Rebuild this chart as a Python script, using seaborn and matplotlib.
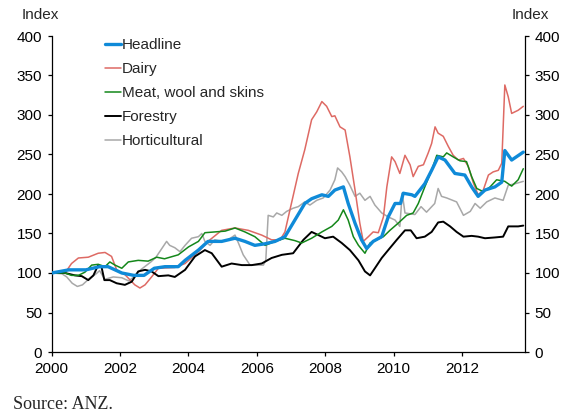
import matplotlib
matplotlib.use("Agg")
import matplotlib.pyplot as plt
import seaborn as sns
import pandas as pd

# ---------------- data ----------------
series_names = ["Headline", "Dairy", "Meat, wool and skins", "Forestry", "Horticultural"]

headline_t = [2000.0, 2000.5, 2001.0, 2001.4, 2001.65, 2002.05, 2002.4, 2002.7, 2003.0, 2003.31,
              2003.7, 2003.9, 2004.29, 2004.57, 2004.97, 2005.36, 2005.65, 2005.94, 2006.24, 2006.53,
              2006.82, 2007.11, 2007.4, 2007.6, 2007.9, 2008.09, 2008.28, 2008.53, 2008.67, 2008.87,
              2009.06, 2009.21, 2009.4, 2009.65, 2009.84, 2010.04, 2010.2, 2010.28, 2010.53, 2010.62,
              2010.91, 2011.11, 2011.3, 2011.5, 2011.79, 2012.08, 2012.28, 2012.47, 2012.67, 2012.96,
              2013.16, 2013.25, 2013.45, 2013.79]
headline_v = [100, 104, 104, 108, 108, 100, 97, 97, 106, 108,
              108, 116, 129, 140, 140, 144, 140, 135, 137, 140,
              146, 167, 188, 194, 199, 197, 205, 209, 188, 163,
              142, 131, 140, 146, 171, 188, 188, 201, 199, 197,
              213, 230, 247, 243, 226, 224, 209, 197, 205, 209,
              215, 255, 243, 253]

dairy_t = [2000.0, 2000.39, 2000.58, 2000.78, 2001.07, 2001.36, 2001.56, 2001.75, 2001.9, 2002.14,
           2002.43, 2002.58, 2002.73, 2002.92, 2003.12, 2003.6, 2003.9, 2004.29, 2004.57, 2004.97,
           2005.36, 2005.75, 2006.14, 2006.43, 2006.68, 2006.82, 2007.02, 2007.21, 2007.4, 2007.6,
           2007.75, 2007.9, 2008.04, 2008.19, 2008.28, 2008.43, 2008.58, 2008.72, 2008.87, 2009.01,
           2009.11, 2009.26, 2009.4, 2009.55, 2009.7, 2009.8, 2009.94, 2010.04, 2010.18, 2010.33,
           2010.48, 2010.57, 2010.72, 2010.87, 2011.01, 2011.11, 2011.21, 2011.3, 2011.45, 2011.6,
           2011.74, 2011.89, 2012.04, 2012.18, 2012.33, 2012.47, 2012.62, 2012.77, 2012.91, 2013.06,
           2013.16, 2013.25, 2013.35, 2013.45, 2013.64, 2013.79]
dairy_v = [100, 100, 112, 119, 120, 125, 126, 121, 104, 98,
           85, 81, 85, 95, 106, 107, 112, 127, 140, 154,
           157, 154, 148, 142, 142, 152, 190, 226, 256, 294,
           304, 317, 311, 298, 299, 285, 281, 247, 205, 163,
           140, 146, 152, 151, 171, 209, 247, 241, 226, 249,
           237, 222, 235, 237, 252, 264, 285, 277, 273, 260,
           249, 243, 245, 235, 214, 199, 205, 224, 228, 230,
           239, 338, 323, 302, 306, 311]

meat_t = [2000.0, 2000.39, 2000.58, 2000.78, 2000.97, 2001.17, 2001.36, 2001.56, 2001.7, 2001.85,
          2002.05, 2002.24, 2002.53, 2002.82, 2003.07, 2003.3, 2003.7, 2004.0, 2004.29, 2004.48,
          2004.77, 2005.07, 2005.36, 2005.65, 2005.94, 2006.24, 2006.53, 2006.82, 2007.11, 2007.31,
          2007.6, 2007.9, 2008.19, 2008.38, 2008.53, 2008.67, 2008.82, 2008.97, 2009.16, 2009.31,
          2009.5, 2009.7, 2009.89, 2010.13, 2010.38, 2010.57, 2010.72, 2010.91, 2011.11, 2011.26,
          2011.45, 2011.55, 2011.74, 2011.94, 2012.13, 2012.28, 2012.43, 2012.62, 2012.82, 2013.01,
          2013.25, 2013.45, 2013.64, 2013.79]
meat_v = [100, 100, 97, 97, 101, 110, 111, 108, 114, 110,
          106, 114, 116, 115, 120, 118, 123, 133, 140, 151,
          152, 153, 157, 152, 146, 135, 140, 144, 141, 138,
          144, 152, 159, 167, 180, 167, 146, 135, 125, 138,
          142, 146, 154, 163, 173, 176, 188, 209, 230, 249,
          247, 252, 247, 242, 241, 222, 207, 203, 209, 218,
          216, 210, 218, 232]

forestry_t = [2000.0, 2000.39, 2000.68, 2000.88, 2001.07, 2001.22, 2001.36, 2001.46, 2001.54, 2001.7,
              2001.9, 2002.14, 2002.34, 2002.53, 2002.73, 2002.92, 2003.12, 2003.41, 2003.6, 2003.9,
              2004.19, 2004.48, 2004.68, 2004.97, 2005.26, 2005.56, 2005.85, 2006.14, 2006.43, 2006.73,
              2007.06, 2007.36, 2007.6, 2007.8, 2007.99, 2008.23, 2008.48, 2008.72, 2008.97, 2009.16,
              2009.31, 2009.45, 2009.65, 2009.84, 2010.09, 2010.33, 2010.5, 2010.67, 2010.91, 2011.11,
              2011.3, 2011.45, 2011.65, 2011.84, 2012.04, 2012.28, 2012.47, 2012.67, 2012.96, 2013.2,
              2013.35, 2013.64, 2013.79]
forestry_v = [100, 100, 97, 96, 91, 97, 110, 107, 91, 91,
              87, 85, 89, 102, 104, 102, 96, 97, 95, 104,
              121, 129, 125, 108, 112, 110, 110, 112, 119, 123,
              125, 142, 152, 148, 144, 146, 138, 129, 116, 102,
              97, 106, 119, 129, 142, 154, 154, 144, 146, 152,
              164, 165, 159, 152, 146, 147, 146, 144, 145, 146,
              159, 159, 160]

hort_t = [2000.0, 2000.3, 2000.44, 2000.6, 2000.75, 2000.9, 2001.1, 2001.3, 2001.4, 2001.55,
          2001.8, 2002.05, 2002.25, 2002.4, 2002.6, 2002.9, 2003.05, 2003.36, 2003.45, 2003.6,
          2003.75, 2003.9, 2004.09, 2004.29, 2004.39, 2004.48, 2004.63, 2004.77, 2004.97, 2005.16,
          2005.36, 2005.46, 2005.6, 2005.8, 2005.99, 2006.19, 2006.26, 2006.33, 2006.48, 2006.58,
          2006.73, 2006.87, 2007.06, 2007.21, 2007.4, 2007.55, 2007.75, 2007.94, 2008.14, 2008.28,
          2008.36, 2008.48, 2008.58, 2008.72, 2008.87, 2009.01, 2009.16, 2009.31, 2009.45, 2009.65,
          2009.84, 2010.04, 2010.18, 2010.25, 2010.33, 2010.62, 2010.8, 2010.96, 2011.2, 2011.3,
          2011.4, 2011.55, 2011.84, 2012.04, 2012.24, 2012.38, 2012.53, 2012.72, 2012.96, 2013.2,
          2013.35, 2013.55, 2013.79]
hort_v = [100, 99, 95, 87, 83, 85, 93, 99, 103, 92,
          95, 94, 90, 95, 104, 114, 120, 140, 135, 132,
          127, 135, 144, 146, 150, 140, 135, 142, 140, 142,
          148, 138, 123, 110, 110, 110, 116, 173, 171, 176,
          173, 178, 182, 184, 190, 186, 192, 195, 205, 218,
          233, 228, 222, 211, 197, 201, 192, 197, 186, 176,
          171, 167, 159, 201, 176, 174, 184, 177, 188, 207,
          197, 195, 190, 173, 178, 188, 182, 190, 195, 192,
          211, 213, 216]

x_ticks = [2000, 2002, 2004, 2006, 2008, 2010, 2012]
y_ticks = [0, 50, 100, 150, 200, 250, 300, 350, 400]

# ---------------- figure ----------------
sns.set_theme(style="white")
plt.rcParams["font.family"] = ["Liberation Sans", "DejaVu Sans"]

fig = plt.figure(figsize=(5.66, 4.15), dpi=100)
ax = fig.add_axes([51.7 / 566, 1 - 352 / 415, (525 - 51.7) / 566, (352 - 36) / 415])

styles = [
    (series_names[1], dairy_t, dairy_v, "#DE6A64", 1.1, 2),
    (series_names[2], meat_t, meat_v, "#14871A", 1.1, 3),
    (series_names[3], forestry_t, forestry_v, "#000000", 1.4, 2),
    (series_names[4], hort_t, hort_v, "#A8A8A8", 1.1, 1),
    (series_names[0], headline_t, headline_v, "#0F8AD8", 2.4, 5),
]
handles = {}
for name, t, v, col, lw, z in styles:
    df = pd.DataFrame({"year": t, "value": v})
    sns.lineplot(data=df, x="year", y="value", ax=ax, color=col, linewidth=lw,
                 sort=False, estimator=None, label=name, zorder=z)
    handles[name] = ax.get_lines()[-1]

ax.set_xlim(2000, 2013.84)
ax.set_ylim(0, 400)
ax.set_xticks(x_ticks)
ax.set_xticklabels([str(x) for x in x_ticks])
ax.set_yticks(y_ticks)
ax.set_xlabel("")
ax.set_ylabel("")

for s in ["left", "right", "bottom"]:
    ax.spines[s].set_visible(True)
    ax.spines[s].set_color("#000000")
    ax.spines[s].set_linewidth(0.9)
ax.spines["top"].set_visible(False)

ax.tick_params(axis="both", which="major", direction="out", length=3, width=0.9,
               color="#000000", labelsize=11, labelcolor="#000000", pad=3)
ax.tick_params(axis="y", left=True, right=True, labelleft=True, labelright=True, pad=4)
ax.tick_params(axis="x", bottom=True, pad=4)

leg = ax.legend([handles[n] for n in series_names], series_names,
                loc="upper left", bbox_to_anchor=(105 / 566, 1 - 38 / 415),
                bbox_transform=fig.transFigure, frameon=False, fontsize=11,
                handlelength=1.05, handletextpad=0.05, labelspacing=0.66,
                borderpad=0, borderaxespad=0)
leg.get_lines()[0].set_linewidth(2.4)

fig.text(40 / 566, 1 - 15 / 415, "Index", ha="center", va="center", fontsize=11)
fig.text(530 / 566, 1 - 15 / 415, "Index", ha="center", va="center", fontsize=11)
fig.text(13 / 566, 1 - 404 / 415, "Source: ANZ.", ha="left", va="center",
         fontsize=13, family=["Liberation Serif", "DejaVu Serif"])

fig.savefig("out.png", dpi=100)
